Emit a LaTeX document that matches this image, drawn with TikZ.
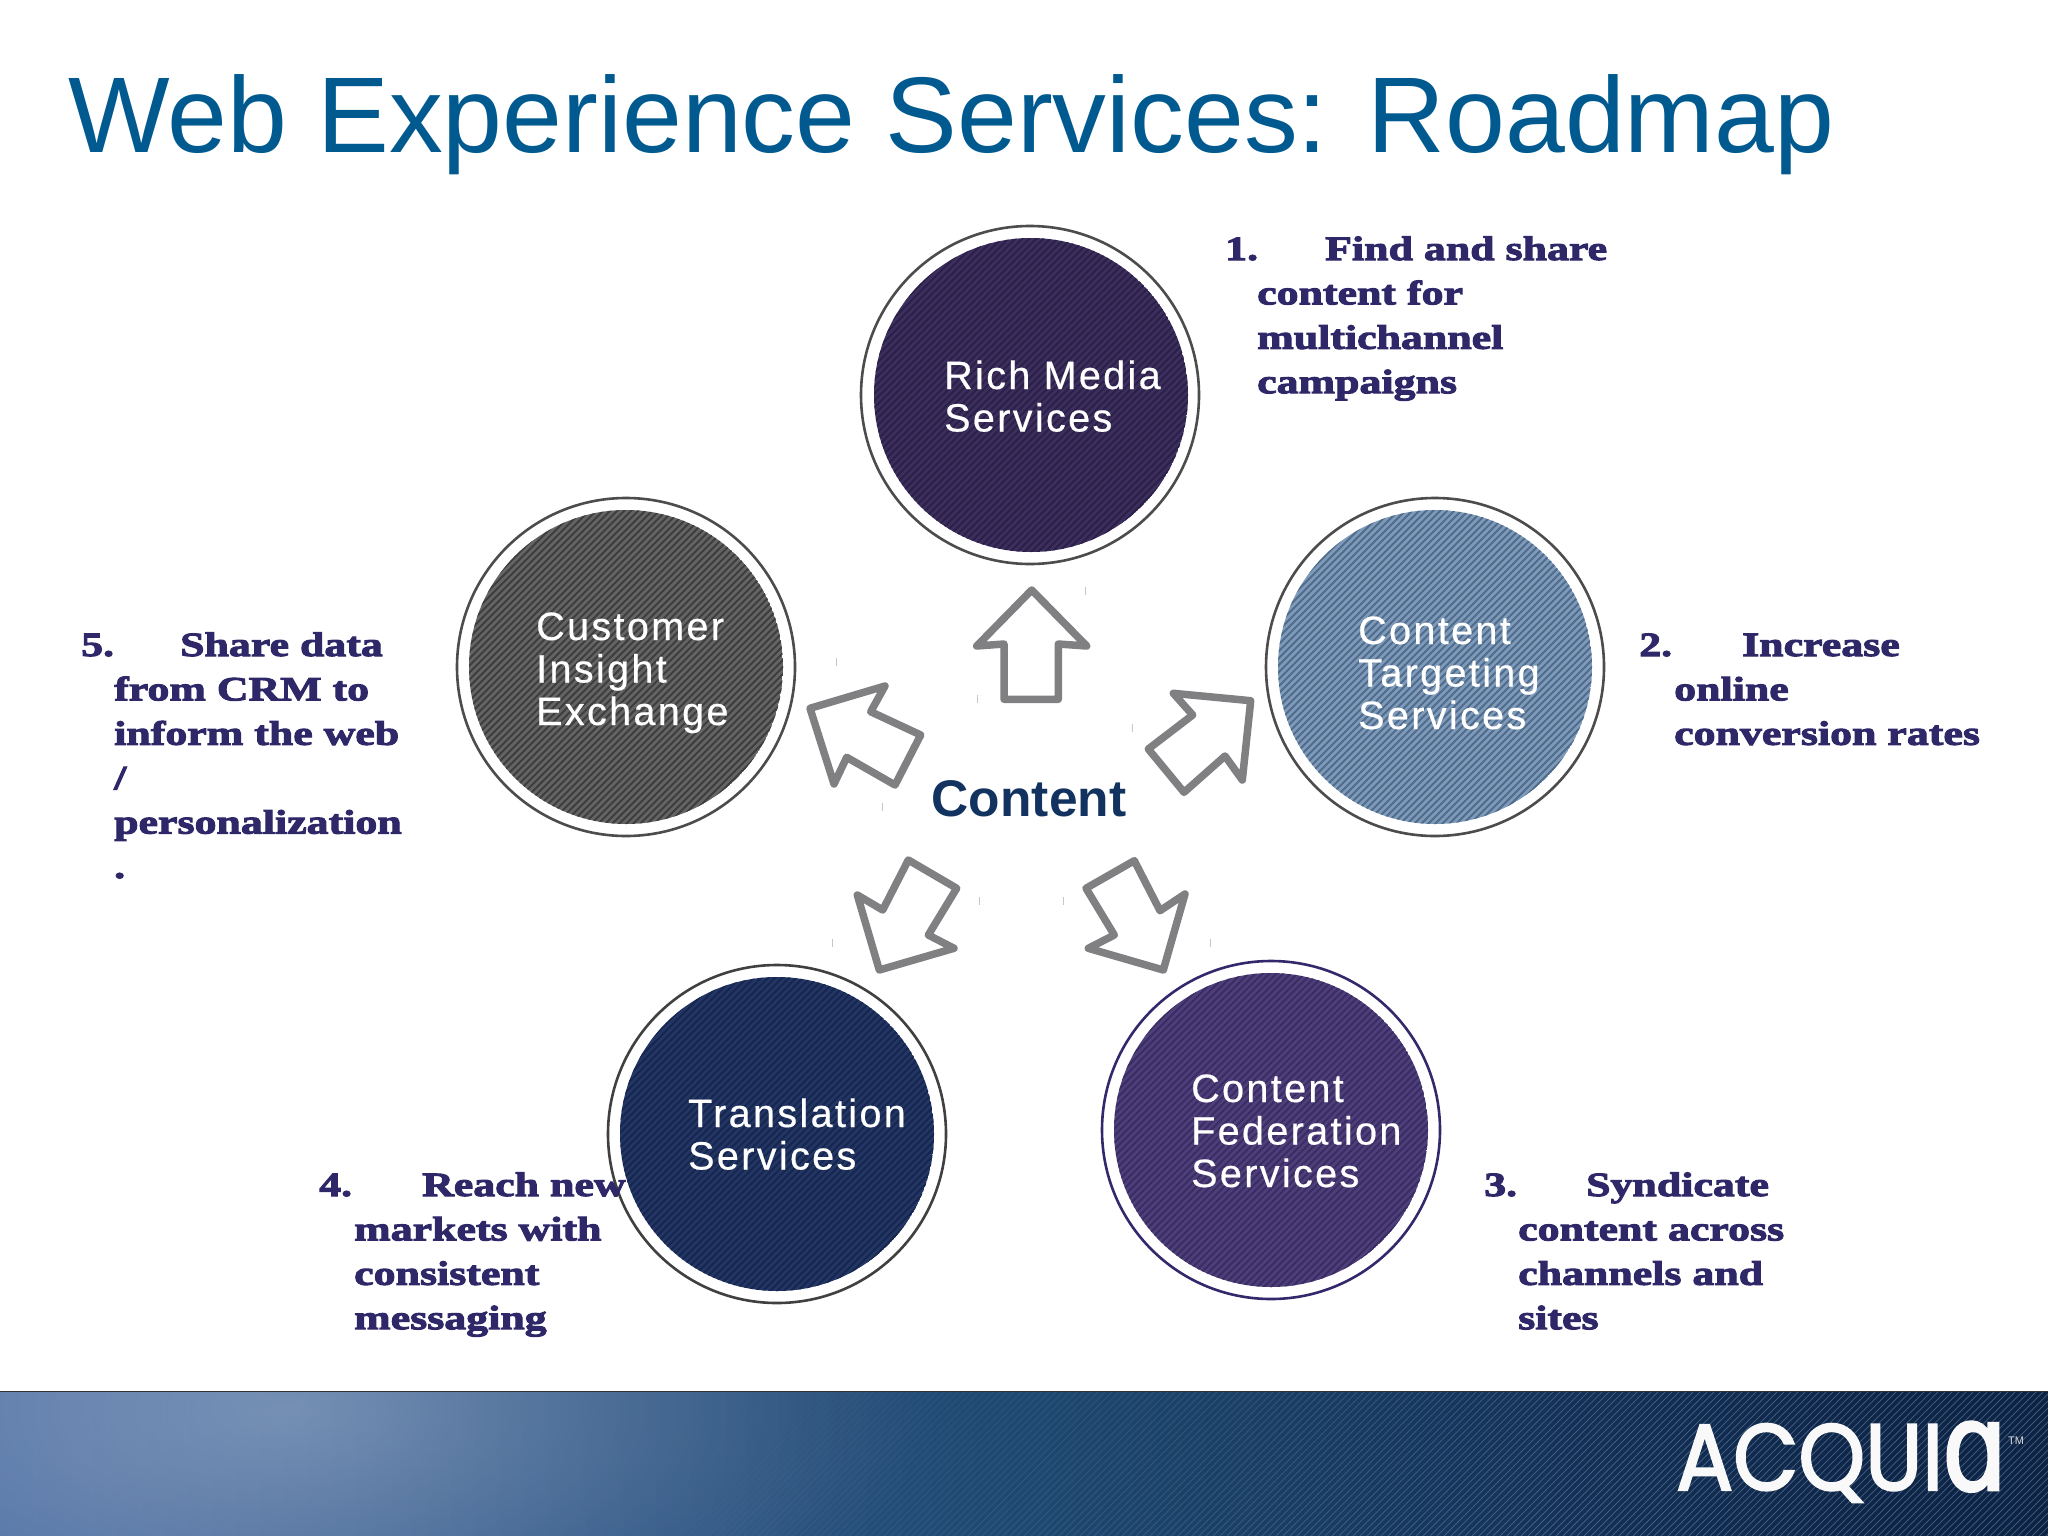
\documentclass[tikz,border=0pt]{standalone}
\usepackage{fontspec}
\usetikzlibrary{fadings}
\setmainfont{Liberation Sans}
\newfontfamily\fatf[UprightFont={* Bold},FakeBold=3,FakeStretch=1.29]{Liberation Serif}
\newfontfamily\lblf[LetterSpace=6,FakeBold=0.5]{Liberation Sans}
\newfontfamily\logof[FakeBold=2.2,FakeStretch=.9]{Poppins}
\newfontfamily\logoa[FakeBold=2.2,FakeStretch=.84]{DejaVu Sans}
\definecolor{titleblue}{HTML}{005A8F}
\definecolor{notecol}{HTML}{2E2768}
\definecolor{contentcol}{HTML}{12335F}
\definecolor{arrowcol}{HTML}{808083}
\definecolor{fa}{HTML}{3C68A6}
\definecolor{fb}{HTML}{4A70A8}
\definecolor{fc}{HTML}{46699E}
\definecolor{fd}{HTML}{2E5688}
\definecolor{fe}{HTML}{1F4870}
\definecolor{ff}{HTML}{0F2648}
\definecolor{fg}{HTML}{07142A}
\definecolor{stripecol}{HTML}{7FA6CF}
\definecolor{richA}{HTML}{3D2E5E}
\definecolor{richB}{HTML}{2A2148}
\definecolor{cieA}{HTML}{646464}
\definecolor{cieB}{HTML}{3E3E3E}
\definecolor{ctsA}{HTML}{7E9ABA}
\definecolor{ctsB}{HTML}{506C8A}
\definecolor{tsA}{HTML}{223666}
\definecolor{tsB}{HTML}{16264C}
\definecolor{cfsA}{HTML}{4E3E7C}
\definecolor{cfsB}{HTML}{3A2D60}
\definecolor{cfsR}{HTML}{34286C}
\tikzfading[name=softglow,inner color=transparent!0,outer color=transparent!100]
\pgfdeclarehorizontalshading{footshade}{100bp}{
 color(0bp)=(fa);
 color(12bp)=(fb);
 color(27bp)=(fc);
 color(38bp)=(fd);
 color(50bp)=(fe);
 color(70bp)=(ff);
 color(100bp)=(fg)}
\newcommand{\tline}[1]{\hbox{#1}}
\newcommand{\hatchdisc}[5]{%
 \begin{scope}
 \path[clip] (#1,#2) circle[radius=#3pt];
 \fill[#4] (#1,#2) circle[radius=#3pt];
 \foreach \k in {-340,-333,...,340}
   \draw[#5,line width=2pt] (#1+\k-340,#2+340) -- (#1+\k+340,#2-340);
 \end{scope}}
\tikzset{
 x=1pt,y=-1pt,
 ring/.style={circle,draw=#1,line width=2.6pt,fill=white,minimum size=338pt,inner sep=0pt},
 notetext/.style={anchor=base west,inner sep=0pt,text=notecol,font=\fatf\fontsize{34}{44.4}\selectfont},
 lbl/.style={anchor=base west,inner sep=0pt,text=white,font=\lblf\fontsize{39.5}{42.5}\selectfont},
 bigarrow/.style={draw=arrowcol,line width=7.5pt,line join=round,fill=white},
 tick/.style={draw=black!22,line width=1pt}
}
\begin{document}
\begin{tikzpicture}
\useasboundingbox (0,0) rectangle (2048,1536);
\fill[white] (0,0) rectangle (2048,1536);
% title
\node[anchor=base west,inner sep=0pt,text=titleblue,font=\fontsize{107.6}{120}\selectfont] (title) at (68,153) {Web Experience Services: Roadmap};
% footer
\begin{scope}
\path[clip] (0,1391) rectangle (2048,1536);
\shade[shading=footshade] (0,1391) rectangle (2048,1536);
\fill[white,opacity=.3,path fading=softglow,fit fading=true] (290,1410) ellipse[x radius=640pt,y radius=300pt];
\foreach \k in {700,707,...,2200}{
  \pgfmathsetmacro{\op}{min(.4,(\k-700)/1000*.4)}
  \draw[draw=stripecol,opacity=\op,line width=.9pt] (\k-145,1536) -- (\k,1391);
}
\end{scope}
\draw[black!60!gray,line width=1pt] (0,1391) -- (2048,1391);
% logo
\node[anchor=base west,inner sep=0pt,text=white!95!gray,font=\logof\fontsize{94}{94}\selectfont] (logo) at (1676,1490) {ACQUI};
\node[anchor=base west,inner sep=0pt,text=white!95!gray,font=\logoa\fontsize{122}{122}\selectfont] (logob) at (1942,1490) {ɑ};
\node[anchor=base west,inner sep=0pt,text=white!70!gray,font=\fontsize{11}{11}\selectfont] (tm) at (2008,1444) {TM};
% circles
\node[ring=black!70] (rich) at (1030,395) {};
\hatchdisc{1031}{395}{157}{fill=richA}{draw=richB}
\node[ring=black!70] (cie) at (626,667) {};
\hatchdisc{626}{667}{157}{fill=cieA}{draw=cieB}
\node[ring=black!70] (cts) at (1435,667) {};
\hatchdisc{1435}{667}{157}{fill=ctsA}{draw=ctsB}
\node[ring=black!75] (ts) at (777,1134) {};
\hatchdisc{777}{1134}{157}{fill=tsA}{draw=tsB}
\node[ring=cfsR] (cfs) at (1271,1130) {};
\hatchdisc{1271}{1130}{157}{fill=cfsA}{draw=cfsB}
% circle labels
\node[lbl] (l1) at (944,389) {\vtop{\tline{Rich Media}\tline{Services}}};
\node[lbl] (l2) at (536,640) {\vtop{\tline{Customer}\tline{Insight}\tline{Exchange}}};
\node[lbl] (l3) at (1358,644) {\vtop{\tline{Content}\tline{Targeting}\tline{Services}}};
\node[lbl] (l4) at (688,1127) {\vtop{\tline{Translation}\tline{Services}}};
\node[lbl] (l5) at (1191,1102) {\vtop{\tline{Content}\tline{Federation}\tline{Services}}};
% arrows
\draw[bigarrow] (1031.7,590)--(1086.7,646)--(1058.3,644)--(1058.3,699.3)--(1004,699.3)--(1004,644)--(976.7,646)--cycle;
\draw[bigarrow] (810,708.3)--(885,686)--(870.7,711.7)--(920.7,735)--(895,785)--(846.7,757.3)--(834,784)--cycle;
\draw[bigarrow] (1250.7,700.7)--(1173.3,693.3)--(1192.7,715)--(1148.3,749)--(1184,792.3)--(1225,756)--(1242.3,780)--cycle;
\draw[bigarrow] (879.3,970)--(954,948.3)--(928.3,935)--(956.7,888.3)--(908.3,860)--(882.7,910)--(857.3,895)--cycle;
\draw[bigarrow] (1163.3,970)--(1088.3,948.3)--(1114.3,935)--(1086,888.3)--(1134.3,860.7)--(1160,910.7)--(1185,894)--cycle;
% faint ticks
\foreach \tx/\ty in {1085.7/591,977.7/699,836/662,1132.5/728,882.7/807,979.3/901,1063.7/901,832.3/943,1210.3/943}
  \draw[tick] (\tx,\ty-4) -- (\tx,\ty+4);
% centre label
\node[anchor=base,inner sep=0pt,text=contentcol,font=\bfseries\fontsize{51.5}{52}\selectfont] (ctr) at (1029,816) {Content};
% notes
\node[notetext] (n1) at (1225,260) {\vtop{\tline{\makebox[100pt][l]{1.}Find and share}\tline{\hspace*{32pt}content for}\tline{\hspace*{32pt}multichannel}\tline{\hspace*{32pt}campaigns}}};
\node[notetext] (n2) at (1639,656) {\vtop{\tline{\makebox[103pt][l]{2.}Increase}\tline{\hspace*{35pt}online}\tline{\hspace*{35pt}conversion rates}}};
\node[notetext] (n3) at (1484,1196) {\vtop{\tline{\makebox[102pt][l]{3.}Syndicate}\tline{\hspace*{34pt}content across}\tline{\hspace*{34pt}channels and}\tline{\hspace*{34pt}sites}}};
\node[notetext] (n4) at (319,1196) {\vtop{\tline{\makebox[103pt][l]{4.}Reach new}\tline{\hspace*{35pt}markets with}\tline{\hspace*{35pt}consistent}\tline{\hspace*{35pt}messaging}}};
\node[notetext] (n5) at (81,656) {\vtop{\tline{\makebox[99pt][l]{5.}Share data}\tline{\hspace*{33pt}from CRM to}\tline{\hspace*{33pt}inform the web}\tline{\hspace*{33pt}/}\tline{\hspace*{33pt}personalization}\tline{\hspace*{33pt}.}}};
\end{tikzpicture}
\end{document}
